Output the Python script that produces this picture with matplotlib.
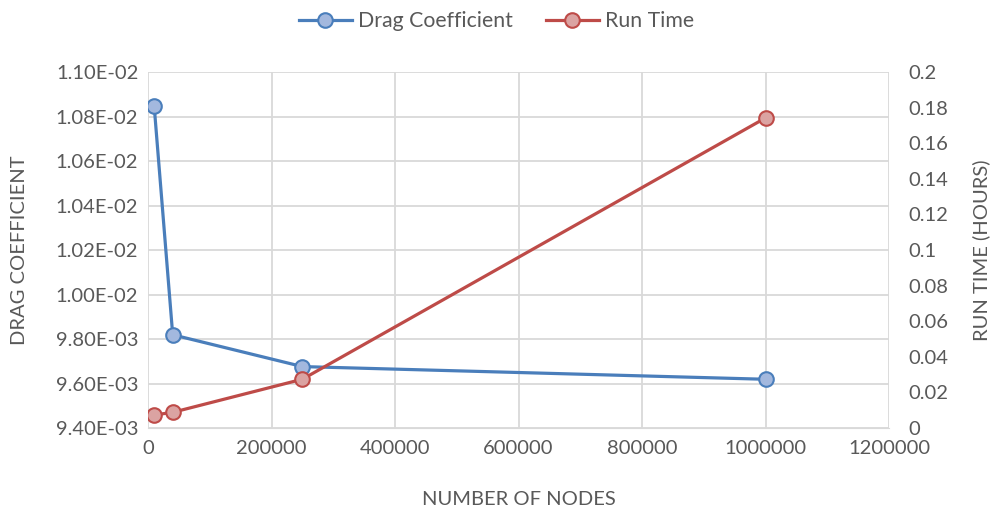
import matplotlib.pyplot as plt
from matplotlib.ticker import FuncFormatter, MultipleLocator

nodes = [10000, 40000, 250000, 1000000]
drag_coeff = [0.010847, 0.009819, 0.009676, 0.009619]
run_time = [0.0073, 0.0088, 0.0274, 0.1742]

plt.rcParams['font.family'] = ['Lato', 'DejaVu Sans']
gray = '#595959'
grid_c = '#d9d9d9'
blue = '#4a7ebb'
red = '#be4b48'
fs = 14.5

fig = plt.figure(figsize=(9.93, 5.12), dpi=100)
ax = fig.add_axes([148/993, 1-428/512, (889-148)/993, (428-72)/512])
ax2 = ax.twinx()

l1, = ax.plot(nodes, drag_coeff, color=blue, lw=2.3, marker='o', ms=10.5,
              mfc='#a3b8de', mec=blue, mew=1.5, label='Drag Coefficient', zorder=3)
l2, = ax2.plot(nodes, run_time, color=red, lw=2.3, marker='o', ms=10.5,
               mfc='#dba3a2', mec=red, mew=1.5, label='Run Time', zorder=3)

ax.set_xlim(0, 1200000)
ax.set_ylim(0.0094, 0.011)
ax2.set_ylim(0, 0.2)
ax.xaxis.set_major_locator(MultipleLocator(200000))
ax.yaxis.set_major_locator(MultipleLocator(0.0002))
ax2.yaxis.set_major_locator(MultipleLocator(0.02))
ax.xaxis.set_major_formatter(FuncFormatter(lambda v, p: f'{v:.0f}'))
ax.yaxis.set_major_formatter(FuncFormatter(lambda v, p: f'{v:.2E}'))
ax2.yaxis.set_major_formatter(FuncFormatter(lambda v, p: f'{v:.2f}'.rstrip('0').rstrip('.') if v else '0'))

ax.grid(True, color=grid_c, lw=1.3)
ax.set_axisbelow(True)
for a in (ax, ax2):
    for s in a.spines.values():
        s.set_visible(False)
    a.tick_params(length=0, labelsize=fs, labelcolor=gray)
ax.spines['bottom'].set_visible(True)
ax.spines['bottom'].set_color(grid_c)
ax.tick_params(axis='x', pad=9)
ax.tick_params(axis='y', pad=7)
ax2.tick_params(axis='y', pad=14)

ax.set_xlabel('NUMBER OF NODES', fontsize=fs, color=gray, labelpad=24)
ax.set_ylabel('DRAG COEFFICIENT', fontsize=fs, color=gray, labelpad=20)
ax2.set_ylabel('RUN TIME (HOURS)', fontsize=fs, color=gray, labelpad=17)

fig.legend(handles=[l1, l2], loc='upper center', bbox_to_anchor=(0.5, 1.015),
           ncol=2, frameon=False, fontsize=15.3, labelcolor=gray,
           handlelength=2.5, handletextpad=0.3, columnspacing=1.55)

fig.savefig('out.png', dpi=100)
